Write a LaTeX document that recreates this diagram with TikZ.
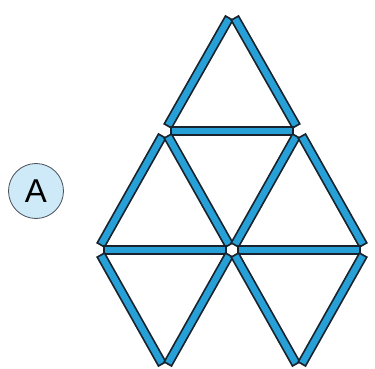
\documentclass[tikz,border=0pt]{standalone}
\usepackage{fontspec}
\setmainfont{Liberation Sans}
\definecolor{stickblue}{RGB}{38,160,214}
\definecolor{stickrim}{RGB}{25,35,45}
\definecolor{pale}{RGB}{206,233,248}
\tikzset{
  rim/.style={draw=stickrim,line width=10pt,shorten <=5pt,shorten >=5pt},
  core/.style={draw=stickblue,line width=6.5pt,shorten <=6.8pt,shorten >=6.8pt},
  badge/.style={circle,draw=stickrim!80,fill=pale,thick,minimum size=55pt,
    inner sep=0pt,font=\fontsize{33}{33}\selectfont},
}
\begin{document}
\begin{tikzpicture}[x=1pt,y=-1pt]
  \useasboundingbox (0,0) rectangle (375,369);
  % corners of the match triangles
  \coordinate (top) at (232,13);
  \coordinate (p1) at (165,131);
  \coordinate (p2) at (299,131);
  \coordinate (q1) at (98,250);
  \coordinate (q2) at (232,250);
  \coordinate (q3) at (366,250);
  \coordinate (r1) at (165,369);
  \coordinate (r2) at (299,369);
  % matches
  \foreach \a/\b in {top/p1,top/p2,p1/p2,p1/q1,p1/q2,p2/q2,p2/q3,
                     q1/q2,q2/q3,q1/r1,q2/r1,q2/r2,q3/r2} {
    \draw[rim] (\a) -- (\b);
    \draw[core] (\a) -- (\b);
  }
  \node[badge] (lbl) at (36,191) {A};
\end{tikzpicture}
\end{document}
